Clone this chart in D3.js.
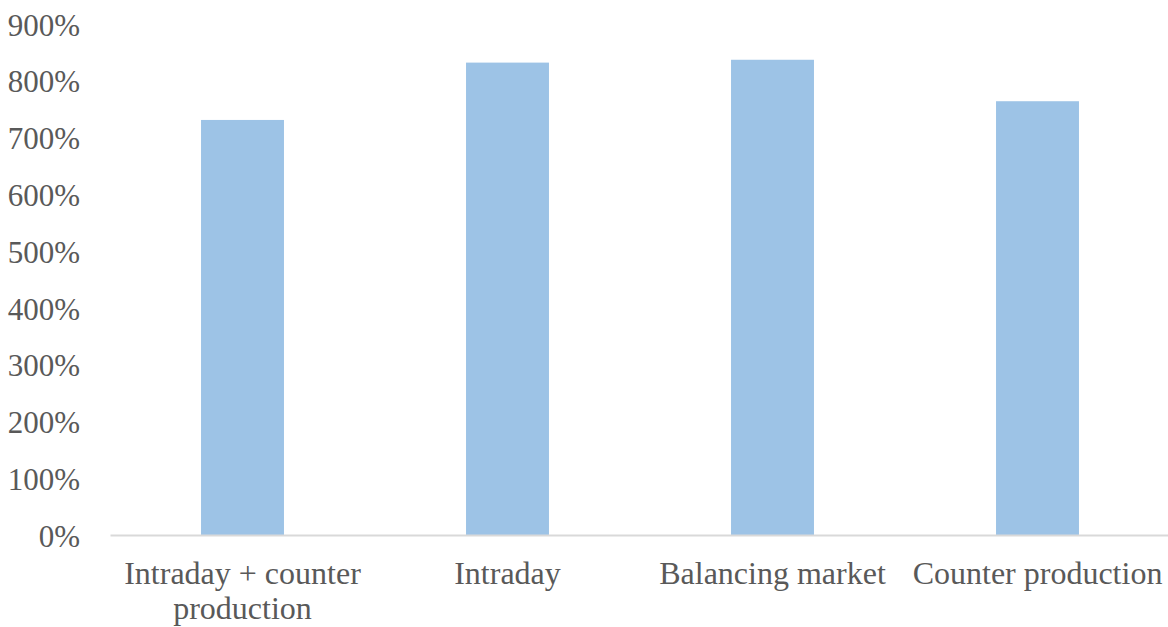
<!DOCTYPE html>
<html>
<head>
<meta charset="utf-8">
<script src="https://cdn.jsdelivr.net/npm/d3@7"></script>
<style>
  body { margin: 0; background: #fff; }
  svg text { font-family: "Liberation Serif", "Times New Roman", serif; fill: #595959; }
</style>
</head>
<body>
<div id="chart"></div>
<script>
// values (fraction, 1 = 100%)
const categories = ["Intraday + counter production", "Intraday", "Balancing market", "Counter production"];
const values = [7.31, 8.32, 8.37, 7.64];
const yTicks = [0, 1, 2, 3, 4, 5, 6, 7, 8, 9];

const w = 1168;
const h = 627;
const margin = { top: 24, right: -2, bottom: 92, left: 110 };
const innerWidth = w - margin.left - margin.right;
const innerHeight = h - margin.top - margin.bottom;

const svg = d3.select("#chart")
    .append("svg")
    .attr("width", w)
    .attr("height", h);

const g = svg.append("g")
    .attr("transform", `translate(${margin.left},${margin.top})`);

const xScale = d3.scaleBand()
    .domain(categories)
    .range([0, innerWidth])
    .paddingInner(0.687)
    .paddingOuter(0.3435);

const yScale = d3.scaleLinear()
    .domain([0, 9])
    .range([innerHeight, 0]);

// y axis: labels only
const yAxisG = g.append("g")
    .call(d3.axisLeft(yScale).tickValues(yTicks).tickSize(0).tickPadding(30)
        .tickFormat(d => d3.format(".0%")(d)));
yAxisG.select(".domain").remove();
yAxisG.selectAll("text")
    .style("font-size", "31px")
    .attr("dy", "0.36em");

// bars
g.selectAll("rect.bar")
    .data(values)
    .enter()
    .append("rect")
    .attr("class", "bar")
    .attr("x", (d, i) => xScale(categories[i]))
    .attr("width", xScale.bandwidth())
    .attr("y", d => yScale(d))
    .attr("height", d => yScale(0) - yScale(d))
    .attr("fill", "#9dc3e6");

// x axis
const xAxisG = g.append("g")
    .attr("transform", `translate(0,${innerHeight})`)
    .call(d3.axisBottom(xScale).tickSize(0).tickPadding(26));
xAxisG.select(".domain")
    .attr("stroke", "#d9d9d9")
    .attr("stroke-width", 2);
xAxisG.selectAll("text")
    .style("font-size", "32px")
    .call(wrap, 262);

function wrap(texts, width) {
    texts.each(function () {
        const text = d3.select(this);
        const words = text.text().split(/\s+/);
        const y = text.attr("y");
        const dy = parseFloat(text.attr("dy"));
        let line = [];
        let lineNumber = 0;
        let tspan = text.text(null).append("tspan").attr("x", 0).attr("y", y).attr("dy", dy + "em");
        words.forEach(word => {
            line.push(word);
            tspan.text(line.join(" "));
            if (tspan.node().getComputedTextLength() > width && line.length > 1) {
                line.pop();
                tspan.text(line.join(" "));
                line = [word];
                tspan = text.append("tspan").attr("x", 0).attr("y", y)
                    .attr("dy", (++lineNumber * 1.1 + dy) + "em").text(word);
            }
        });
    });
}
</script>
</body>
</html>
